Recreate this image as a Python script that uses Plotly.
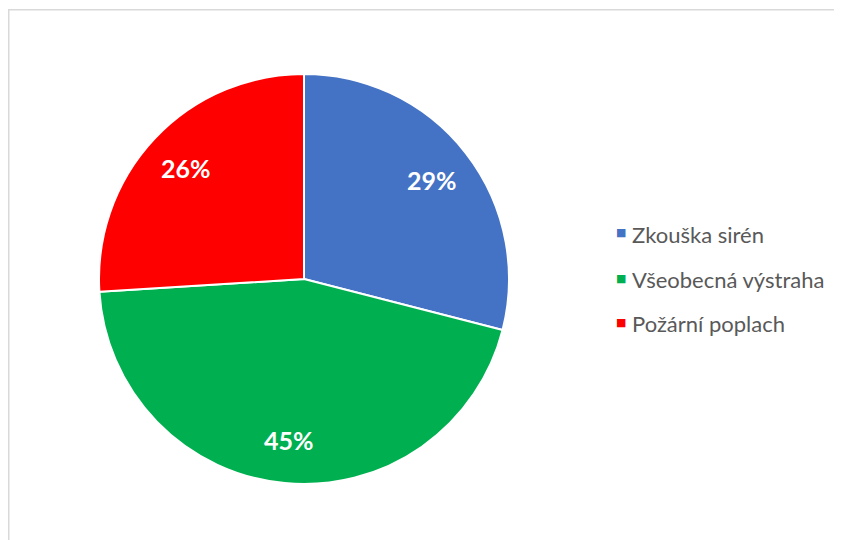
import math
import plotly.graph_objects as go

labels = ["Zkouška sirén", "Všeobecná výstraha", "Požární poplach"]
values = [29, 45, 26]
colors = ["#4472C4", "#00B050", "#FF0000"]

# page body has an 8px offset; figure sized to fit the window
OFF = 8
W, H = 842 - OFF, 540 - OFF
cx, cy, r = 304 - OFF, 279 - OFF, 205

fig = go.Figure(go.Pie(
    labels=labels, values=values, sort=False, direction="clockwise", rotation=0,
    marker=dict(colors=colors, line=dict(color="white", width=2)),
    textinfo="none",
    domain=dict(x=[(cx - r) / W, (cx + r) / W], y=[(H - cy - r) / H, (H - cy + r) / H]),
    showlegend=False, hoverinfo="label+percent",
))

# percentage labels placed at the slice mid-angles
total = sum(values)
cum = 0
for v in values:
    mid = (cum + v / 2) / total * 2 * math.pi
    cum += v
    lx = cx + 0.79 * r * math.sin(mid)
    ly = cy - 0.79 * r * math.cos(mid)
    fig.add_annotation(x=lx / W, y=1 - ly / H, xref="paper", yref="paper", xanchor="center", yanchor="middle",
                       text=f"{round(v / total * 100)}%", showarrow=False,
                       font=dict(family="Lato", size=25, color="white", weight="bold"))

# legend drawn as annotations
legend_y = [233, 278, 322]
for lab, col, ly in zip(labels, colors, legend_y):
    ly -= OFF
    fig.add_annotation(x=(620.5 - OFF) / W, y=1 - ly / H, xref="paper", yref="paper", xanchor="center", yanchor="middle",
                       text="■", showarrow=False, font=dict(family="DejaVu Sans", size=11, color=col))
    fig.add_annotation(x=(630 - OFF) / W, y=1 - (ly + 1) / H, xref="paper", yref="paper", xanchor="left", yanchor="middle",
                       text=lab, showarrow=False, font=dict(family="Lato", size=22, color="#595959"))

fig.add_shape(type="rect", xref="paper", yref="paper", x0=0.75 / W, x1=1.2, y0=-0.2, y1=1 - 1.75 / H,
              line=dict(color="#D9D9D9", width=1.5), fillcolor="rgba(0,0,0,0)")

fig.update_layout(width=W, height=H, margin=dict(l=0, r=0, t=0, b=0),
                  paper_bgcolor="white", plot_bgcolor="white")
fig.write_html("out.html")
